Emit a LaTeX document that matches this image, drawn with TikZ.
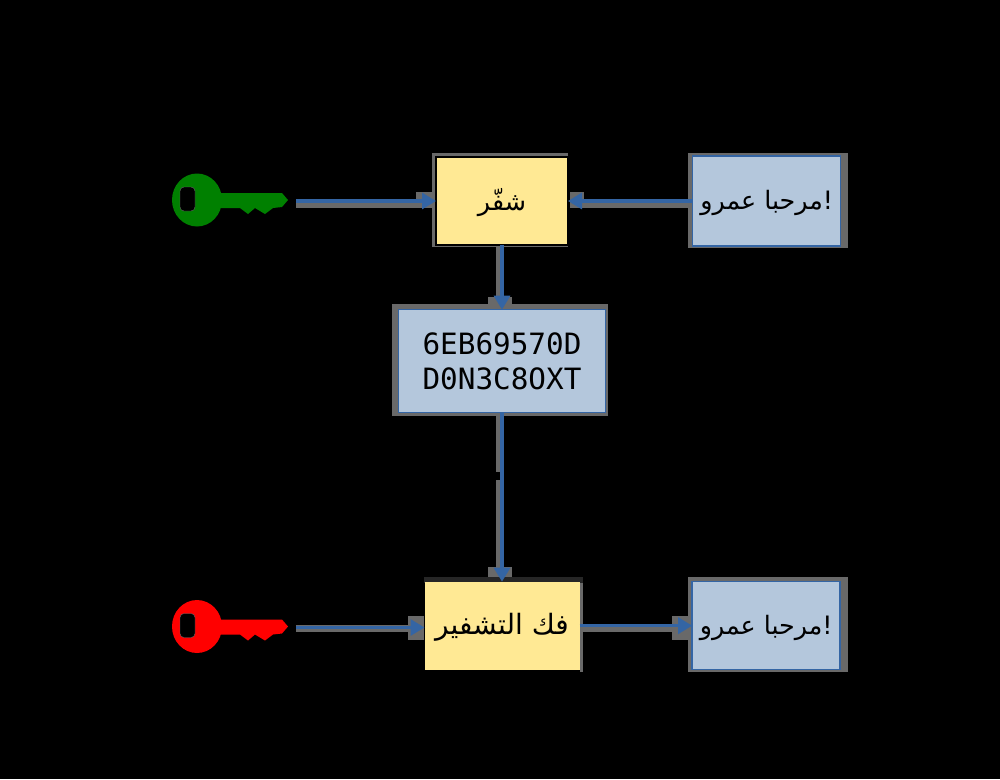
\documentclass[tikz,border=0pt]{standalone}
\usepackage{fontspec}
\usetikzlibrary{positioning}
\usetikzlibrary{arrows.meta}
\TeXXeTstate=1
\newfontfamily\arabicfont[Script=Arabic]{DejaVu Sans}
\newfontfamily\cipherfont{DejaVu Sans Mono}
\newcommand{\artext}[1]{\raisebox{-1.5pt}[\height][\depth]{\beginR #1\endR}}
\definecolor{linkblue}{HTML}{3465A4}
\definecolor{boxblue}{HTML}{B4C7DC}
\definecolor{boxyellow}{HTML}{FFE994}
\definecolor{ghostgrey}{HTML}{696969}
\tikzset{keyicon/.pic={
  \fill[#1] (0,0) ellipse [x radius=25, y radius=26.5];
  \fill[#1] (20,-7) -- (85,-7) -- (91,0) -- (85,7) -- (76,8) -- (68,14) -- (58,8) -- (51,14) -- (43,8) -- (20,8) -- cycle;
  \filldraw[fill=black, draw=ghostgrey, line width=.3pt, rounded corners=3pt] (-17,-13) rectangle (-2,11);
}}
\begin{document}
\begin{tikzpicture}[x=.75pt, y=-.75pt,
                    proc/.style={rectangle, draw=black, line width=1pt, fill=boxyellow, minimum height=66pt, inner sep=0pt, outer sep=0pt, font=\arabicfont\fontsize{19}{22}\selectfont},
                    data/.style={rectangle, draw=linkblue, line width=1.2pt, fill=boxblue, minimum width=111pt, inner sep=0pt, outer sep=0pt, font=\arabicfont\fontsize{19}{22}\selectfont},
                    link/.style={draw=linkblue, line width=2.3pt, -{Triangle[length=10.5pt, width=12pt]}}]
\fill[black] (0,0) rectangle (1000,779);
% grey shadows of the boxes, lines and heads
\foreach \xa/\ya/\xb/\yb in {432/153/568/247, 688/153/848/248, 392/304/608/416, 688/577/848/672, 580/583/583/672,
    296/200/416/208, 416/192/436/208, 583/200/689/208, 570/192/584/208, 496/246/502/297, 488/297/512/304,
    496/416/501/472, 496/480/501/568, 488/567/512/577, 296/625/408/632, 408/616/424/640, 583/624/672/632, 672/616/692/640}
  \fill[ghostgrey] (\xa,\ya) rectangle (\xb,\yb);
\fill[black!85] (424,577) rectangle (583,583);
\node (enc) [proc, minimum width=99pt] at (502,201) {\artext{شفّر}};
\node (msg) [data, right=93.5pt of enc, minimum height=67.5pt] {\artext{!مرحبا عمرو}};
\node (cipher) [data, below=48.5pt of enc, minimum width=155pt, minimum height=77pt, line width=.9pt, align=center, font=\cipherfont\fontsize{22}{26}\selectfont] {6EB69570D\\D0N3C8OXT};
\node (dec) [proc, below=127pt of cipher, minimum width=116.25pt, draw=none, font=\arabicfont\fontsize{21}{24}\selectfont] {\artext{فك التشفير}};
\node (out) [data, right=84.5pt of dec, minimum height=66pt] {\artext{!مرحبا عمرو}};
\pic (greenkey) at (197,200) {keyicon=green!50!black};
\pic (redkey) at (197,626.5) {keyicon=red};
\coordinate (greenstart) at (296,201);
\coordinate (redstart) at (296,627.5);
\draw[link] (greenstart) -- (enc.west);
\draw[link] (msg.west) -- (enc.east);
\draw[link] (enc.south) -- (cipher.north);
\draw[link] (cipher.south) -- (dec.north);
\draw[link] (redstart) -- (dec.west |- redstart);
\draw[link] (dec.east) -- (out.west);
\end{tikzpicture}
\end{document}
